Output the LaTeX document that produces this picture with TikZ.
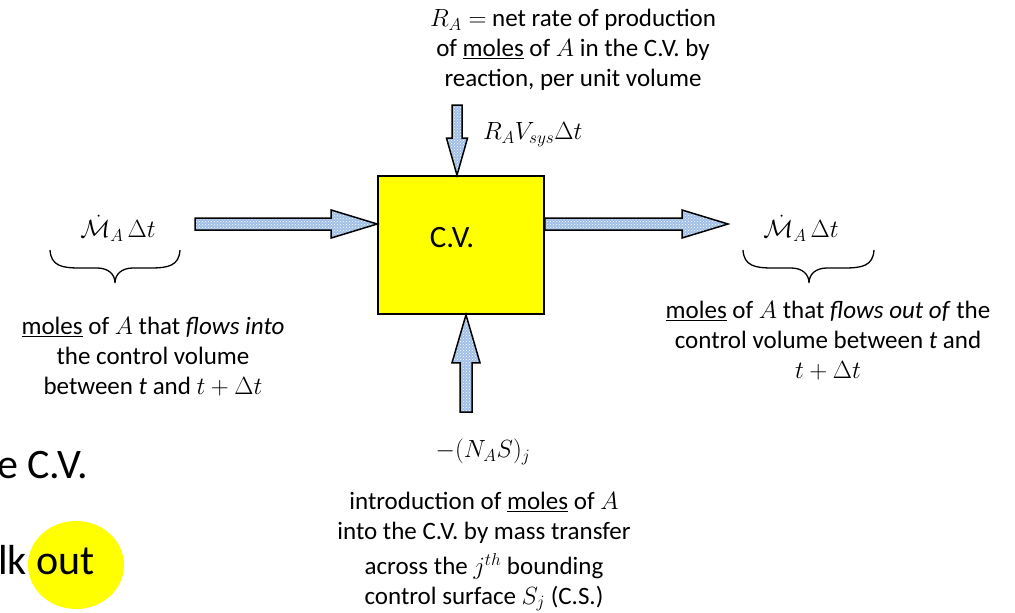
\documentclass[tikz,border=0pt]{standalone}
\usepackage{fontspec}
\setmainfont{Carlito}
\usetikzlibrary{patterns}
\definecolor{cvyellow}{RGB}{255,255,0}
\definecolor{arrowblue}{RGB}{160,190,230}
\tikzset{
  txt/.style={align=center, font=\fontsize{25}{30}\selectfont, inner sep=0pt},
  blockarrow/.style={draw=black, line width=1.5pt, line join=miter,
    preaction={fill=arrowblue}, pattern=crosshatch dots, pattern color=white},
  bigtxt/.style={font=\fontsize{42}{50}\selectfont, inner sep=0pt, anchor=base west},
  bracestyle/.style={draw=black, line width=1.3pt}
}
\begin{document}
\begin{tikzpicture}[x=1pt,y=-1pt]
\useasboundingbox (0,0) rectangle (1015,613);

% control volume
\node[draw, line width=1.6pt, fill=cvyellow, minimum width=166pt, minimum height=138pt, inner sep=0pt] (cv) at (461,245) {};
\node[font=\fontsize{31}{36}\selectfont, inner sep=0pt] (cvlabel) at (452,238) {C.V.};

% arrow end points
\coordinate (inTail) at (195,224);
\coordinate (inTip) at (cv.west |- inTail);
\coordinate (outTail) at (cv.east |- inTail);
\coordinate (outTip) at (728,224);
\coordinate (topTail) at (457,105);
\coordinate (topTip) at (topTail |- cv.north);
\coordinate (botTail) at (466,412);
\coordinate (botTip) at (botTail |- cv.south);

% left arrow (into C.V.)
\draw[blockarrow] ([yshift=-6pt]inTail) -- ([xshift=-46pt,yshift=-6pt]inTip) -- ([xshift=-46pt,yshift=-14pt]inTip)
  -- (inTip) -- ([xshift=-46pt,yshift=14pt]inTip) -- ([xshift=-46pt,yshift=6pt]inTip) -- ([yshift=6pt]inTail) -- cycle;
% right arrow (out of C.V.)
\draw[blockarrow] ([yshift=-6pt]outTail) -- ([xshift=-46pt,yshift=-6pt]outTip) -- ([xshift=-46pt,yshift=-14pt]outTip)
  -- (outTip) -- ([xshift=-46pt,yshift=14pt]outTip) -- ([xshift=-46pt,yshift=6pt]outTip) -- ([yshift=6pt]outTail) -- cycle;
% top arrow (reaction)
\draw[blockarrow] ([xshift=-5pt]topTail) -- ([xshift=-5pt,yshift=37pt]topTip) -- ([xshift=-10.5pt,yshift=37pt]topTip)
  -- (topTip) -- ([xshift=10.5pt,yshift=37pt]topTip) -- ([xshift=5pt,yshift=37pt]topTip) -- ([xshift=5pt]topTail) -- cycle;
% bottom arrow (mass transfer)
\draw[blockarrow] ([xshift=-6pt]botTail) -- ([xshift=-6pt,yshift=-48pt]botTip) -- ([xshift=-14pt,yshift=-48pt]botTip)
  -- (botTip) -- ([xshift=14pt,yshift=-48pt]botTip) -- ([xshift=6pt,yshift=-48pt]botTip) -- ([xshift=6pt]botTail) -- cycle;

% top texts
\node[txt] (rdef) at (573,50) {$R_A=$ net rate of production\\ of \underline{moles} of $A$ in the C.V. by\\ reaction, per unit volume};
\node[txt, anchor=west] (rterm) at (483,135) {$R_AV_{sys}\Delta t$};

% left side
\node[txt] (inTerm) at (118,228) {$\dot{\mathcal{M}}_A\,\Delta t$};
\draw[bracestyle] (50,250) .. controls (51,266) and (62,268) .. (80,268) -- (97,268)
  .. controls (108,268) and (115,274) .. (115,283)
  .. controls (115,274) and (122,268) .. (133,268) -- (150,268)
  .. controls (168,268) and (179,266) .. (180,250);
\node[txt] (inDesc) at (153,357) {\underline{moles} of $A$ that \textit{flows into}\\ the control volume\\ between \textit{t} and $t+\Delta t$};

% right side
\node[txt] (outTerm) at (801,228) {$\dot{\mathcal{M}}_A\,\Delta t$};
\draw[bracestyle] (743,250) .. controls (744,266) and (755,268) .. (773,268) -- (791,268)
  .. controls (802,268) and (809,274) .. (809,283)
  .. controls (809,274) and (816,268) .. (827,268) -- (844,268)
  .. controls (862,268) and (873,266) .. (874,250);
\node[txt] (outDesc) at (828,341) {\underline{moles} of $A$ that \textit{flows out of} the\\ control volume between \textit{t} and\\ $t+\Delta t$};

% bottom
\node[txt] (nterm) at (483,452) {$-(N_AS)_j$};
\node[txt] (nDesc) at (484,551.5) {introduction of \underline{moles} of $A$\\ into the C.V. by mass transfer\\[5pt] across the $j^{th}$ bounding\\ control surface $S_j$ (C.S.)};

% cut-off slide text on the left
\node[bigtxt] (slideA) at (-3,478) {e C.V.};
\fill[cvyellow] (76,565) ellipse [x radius=48pt, y radius=44pt];
\node[bigtxt] (slideB) at (-2,574) {lk out};
\end{tikzpicture}
\end{document}
